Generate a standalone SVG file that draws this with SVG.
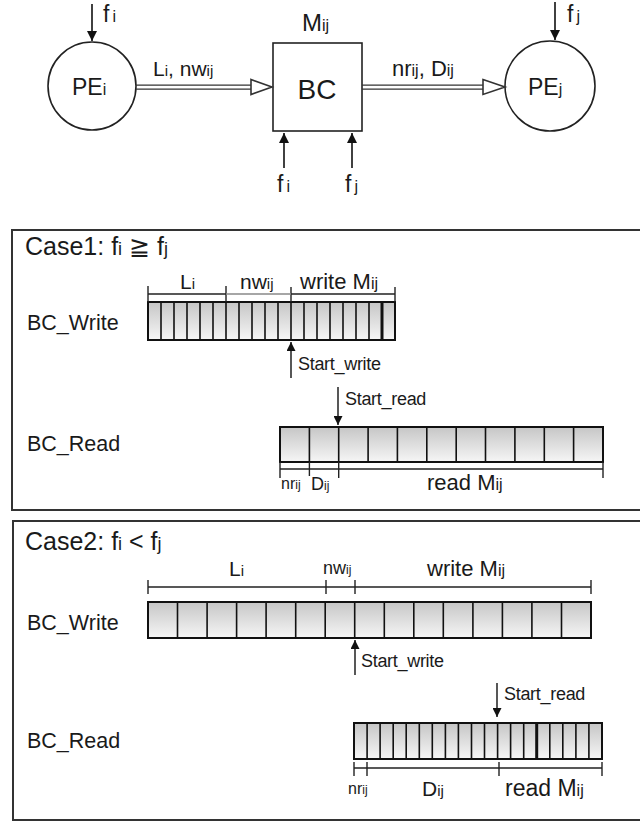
<svg xmlns="http://www.w3.org/2000/svg" width="640" height="822" viewBox="0 0 640 822">
<defs>
<linearGradient id="cellg" x1="0" y1="0" x2="0" y2="1">
<stop offset="0" stop-color="#c6c6c6"/>
<stop offset="1" stop-color="#f6f6f6"/>
</linearGradient>
<marker id="ah" viewBox="0 0 10 10" refX="10" refY="5" markerWidth="10" markerHeight="10" markerUnits="userSpaceOnUse" orient="auto">
<path d="M0,0 L10,5 L0,10 Z" fill="#111"/>
</marker>
<marker id="ahs" viewBox="0 0 10 10" refX="10" refY="5" markerWidth="9" markerHeight="9" markerUnits="userSpaceOnUse" orient="auto">
<path d="M0,0 L10,5 L0,10 Z" fill="#111"/>
</marker>
</defs>
<style>
text{font-family:"Liberation Sans",Arial,sans-serif;fill:#1a1a1a}
.node{fill:#fff;stroke:#222;stroke-width:1.6}
.arr{stroke:#111;stroke-width:1.6;fill:none;marker-end:url(#ah)}
.arrs{stroke:#111;stroke-width:1.4;fill:none;marker-end:url(#ahs)}
.bar{fill:url(#cellg);stroke:#111;stroke-width:2}
.div{stroke:#111;stroke-width:1.6}
.brk{stroke:#222;stroke-width:1.4;fill:none}
.frame{fill:none;stroke:#333;stroke-width:2}
.dbl{stroke:#333;stroke-width:1.3;fill:none}
.hol{fill:#fff;stroke:#333;stroke-width:1.6}
.st{font-size:18px;letter-spacing:-0.3px}
.lab{font-size:21.5px}
</style>

<!-- Top graph -->
<g id="PEi">
<circle class="node" cx="92" cy="86" r="44"/>
<text x="72" y="95" font-size="23">PE<tspan font-size="16">i</tspan></text>
</g>
<g id="BC">
<rect class="node" x="273" y="43" width="89" height="88"/>
<text x="317" y="99" text-anchor="middle" font-size="28">BC</text>
<text x="302" y="31" font-size="24">M<tspan font-size="16">ij</tspan></text>
</g>
<g id="PEj">
<circle class="node" cx="550" cy="86" r="45"/>
<text x="528" y="95" font-size="23">PE<tspan font-size="16">j</tspan></text>
</g>

<g id="connectors">
<path class="arr" d="M92,4 V41"/>
<text x="103" y="22" font-size="23">f<tspan font-size="16" dx="3">i</tspan></text>
<path class="arr" d="M555,2 V40"/>
<text x="567" y="22" font-size="23">f<tspan font-size="16" dx="3">j</tspan></text>
<path class="arr" d="M284,168 V133"/>
<text x="277" y="192" font-size="23">f<tspan font-size="16" dx="3">i</tspan></text>
<path class="arr" d="M352,168 V133"/>
<text x="345" y="192" font-size="23">f<tspan font-size="16" dx="3">j</tspan></text>
<path class="dbl" d="M136,85.2 H252 M136,89.2 H252"/>
<path class="hol" d="M251,79.5 L272,87 L251,94.5 Z"/>
<text x="153" y="76" font-size="21">L<tspan font-size="15">i</tspan>, nw<tspan font-size="15">ij</tspan></text>
<path class="dbl" d="M362,85.2 H484 M362,89.2 H484"/>
<path class="hol" d="M483,79.5 L505,87 L483,94.5 Z"/>
<text x="392" y="76" font-size="22">nr<tspan font-size="16">ij</tspan>, D<tspan font-size="16">ij</tspan></text>
</g>

<!-- Case 1 -->
<g id="case1">
<rect class="frame" x="12" y="230" width="640" height="280"/>
<text x="25" y="255" font-size="25">Case1: f<tspan font-size="18">i</tspan> ≧ f<tspan font-size="18">j</tspan></text>
<text class="lab" x="27" y="330">BC_Write</text>
<text class="lab" x="27" y="451">BC_Read</text>

<rect class="bar" x="148" y="302" width="247" height="38"/>
<path class="div" d="M161,302V340M174,302V340M187,302V340M200,302V340M213,302V340M226,302V340M239,302V340M252,302V340M265,302V340M278,302V340M291,302V340M304,302V340M317,302V340M330,302V340M343,302V340M356,302V340M369,302V340"/>
<path stroke="#111" stroke-width="3" d="M382,302V340"/>
<path class="brk" d="M148,294H226M291,294H395M148,286V302M226,286V302M291,287V302M395,287V302"/>
<path stroke="#888" stroke-width="1.4" d="M226,294H291"/>
<text x="180" y="289" font-size="21">L<tspan font-size="15">i</tspan></text>
<text x="240" y="289" font-size="21">nw<tspan font-size="15">ij</tspan></text>
<text x="300" y="289" font-size="22">write M<tspan font-size="16">ij</tspan></text>
<path class="arrs" d="M291,378V342"/>
<text class="st" x="298" y="370">Start_write</text>

<rect class="bar" x="280" y="427" width="323" height="35"/>
<path class="div" d="M309.4,427V462M338.7,427V462M368.1,427V462M397.4,427V462M426.8,427V462M456.2,427V462M485.5,427V462M514.9,427V462M544.3,427V462M573.6,427V462"/>
<path class="brk" d="M280,469H603M280,462V478M309.4,462V476M338.7,462V478M603,462V478"/>
<path class="arrs" d="M338,387V425"/>
<text class="st" x="345" y="405">Start_read</text>
<text x="281" y="489" font-size="16">nr<tspan font-size="12">ij</tspan></text>
<text x="311" y="490" font-size="18">D<tspan font-size="12">ij</tspan></text>
<text x="427" y="490" font-size="22">read M<tspan font-size="16">ij</tspan></text>
</g>

<!-- Case 2 -->
<g id="case2">
<rect class="frame" x="13" y="521" width="640" height="299"/>
<text x="25" y="550" font-size="25">Case2: f<tspan font-size="18">i</tspan> &lt; f<tspan font-size="18">j</tspan></text>
<text class="lab" x="27" y="630">BC_Write</text>
<text class="lab" x="27" y="748">BC_Read</text>

<path class="brk" d="M148,587H591M148,580V594M326,580V594M355,580V594M591,580V594"/>
<text x="229" y="576" font-size="21">L<tspan font-size="15">i</tspan></text>
<text x="323" y="574" font-size="18">nw<tspan font-size="12">ij</tspan></text>
<text x="427" y="576" font-size="22">write M<tspan font-size="16">ij</tspan></text>

<rect class="bar" x="148" y="602" width="443" height="36"/>
<path class="div" d="M177.5,602V638M207.1,602V638M236.6,602V638M266.1,602V638M295.7,602V638M325.2,602V638M354.7,602V638M384.3,602V638M413.8,602V638M443.3,602V638M472.9,602V638M502.4,602V638M531.9,602V638M561.5,602V638"/>
<path class="arrs" d="M355,675V640"/>
<text class="st" x="361" y="667">Start_write</text>

<path class="arrs" d="M497,683V717"/>
<text class="st" x="504" y="700">Start_read</text>

<rect class="bar" x="354" y="723" width="248" height="36"/>
<path class="div" d="M367.1,723V759M380.1,723V759M393.2,723V759M406.2,723V759M419.3,723V759M432.3,723V759M445.4,723V759M458.4,723V759M471.5,723V759M484.5,723V759M497.6,723V759M510.6,723V759M523.7,723V759M549.8,723V759M562.8,723V759M575.9,723V759M588.9,723V759"/>
<path stroke="#111" stroke-width="3" d="M536.7,723V759"/>
<path class="brk" d="M354,768H602M354,762V776M367,762V776M499,762V776M602,762V776"/>
<text x="348" y="794" font-size="16">nr<tspan font-size="12">ij</tspan></text>
<text x="422" y="796" font-size="21">D<tspan font-size="15">ij</tspan></text>
<text x="505" y="796" font-size="23">read M<tspan font-size="16">ij</tspan></text>
</g>
</svg>
